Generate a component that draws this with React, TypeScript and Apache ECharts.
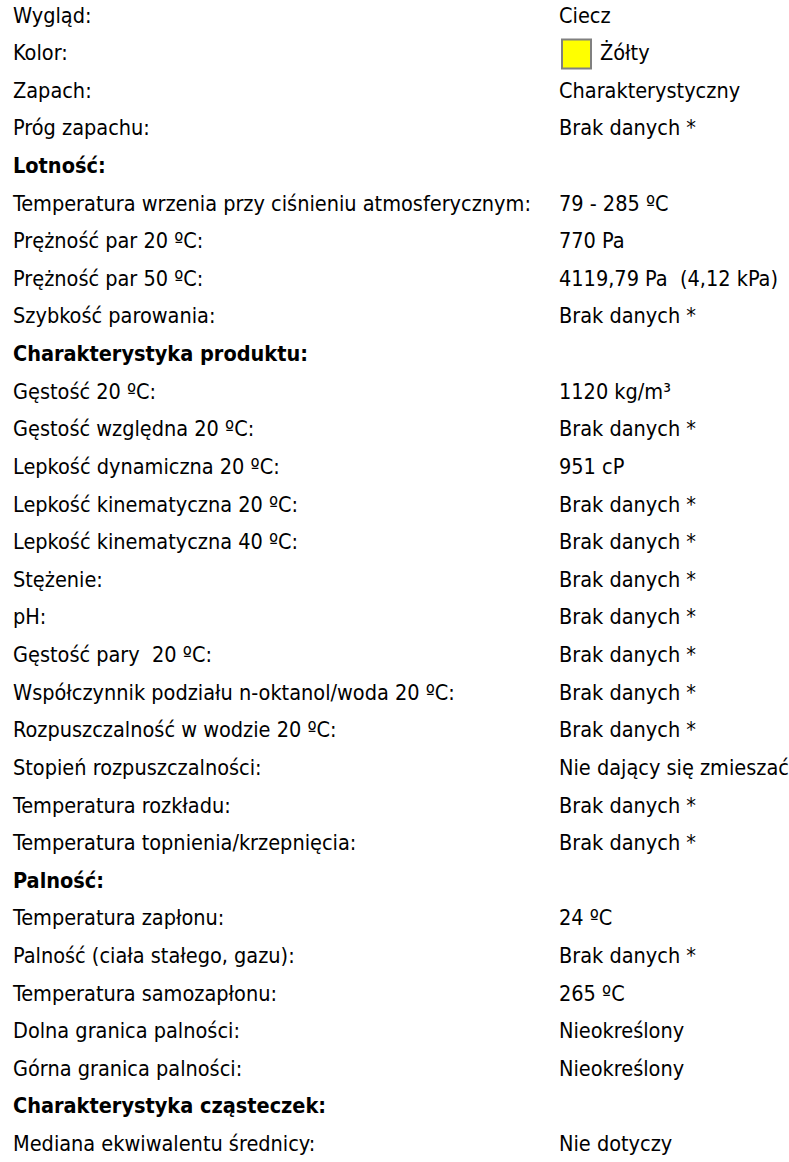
import React, { useEffect, useRef } from "react";
import * as echarts from "echarts";

const labels: string[] = [
  "Wygląd:",
  "Kolor:",
  "Zapach:",
  "Próg zapachu:",
  "Lotność:",
  "Temperatura wrzenia przy ciśnieniu atmosferycznym:",
  "Prężność par 20 ºC:",
  "Prężność par 50 ºC:",
  "Szybkość parowania:",
  "Charakterystyka produktu:",
  "Gęstość 20 ºC:",
  "Gęstość względna 20 ºC:",
  "Lepkość dynamiczna 20 ºC:",
  "Lepkość kinematyczna 20 ºC:",
  "Lepkość kinematyczna 40 ºC:",
  "Stężenie:",
  "pH:",
  "Gęstość pary  20 ºC:",
  "Współczynnik podziału n-oktanol/woda 20 ºC:",
  "Rozpuszczalność w wodzie 20 ºC:",
  "Stopień rozpuszczalności:",
  "Temperatura rozkładu:",
  "Temperatura topnienia/krzepnięcia:",
  "Palność:",
  "Temperatura zapłonu:",
  "Palność (ciała stałego, gazu):",
  "Temperatura samozapłonu:",
  "Dolna granica palności:",
  "Górna granica palności:",
  "Charakterystyka cząsteczek:",
  "Mediana ekwiwalentu średnicy:",
];

const values: string[] = [
  "Ciecz",
  "Żółty",
  "Charakterystyczny",
  "Brak danych *",
  "",
  "79 - 285 ºC",
  "770 Pa",
  "4119,79 Pa  (4,12 kPa)",
  "Brak danych *",
  "",
  "1120 kg/m³",
  "Brak danych *",
  "951 cP",
  "Brak danych *",
  "Brak danych *",
  "Brak danych *",
  "Brak danych *",
  "Brak danych *",
  "Brak danych *",
  "Brak danych *",
  "Nie dający się zmieszać",
  "Brak danych *",
  "Brak danych *",
  "",
  "24 ºC",
  "Brak danych *",
  "265 ºC",
  "Nieokreślony",
  "Nieokreślony",
  "",
  "Nie dotyczy",
];

const sectionHeaders: string[] = [
  "Lotność:",
  "Charakterystyka produktu:",
  "Palność:",
  "Charakterystyka cząsteczek:",
];

const swatchRow = "Kolor:";
const swatchColor = "#FFFF00";

export default function App() {
  const ref = useRef<HTMLDivElement>(null);
  useEffect(() => {
    document.body.style.margin = "0";
    const chart = echarts.init(ref.current!, null, { renderer: "svg" });
    const font = "'DejaVu Sans Condensed', 'DejaVu Sans', sans-serif";
    const fontSize = 21.5;
    const top = 15;
    const step = 37.62;
    const leftX = 13;
    const rightX = 559;
    const elements: any[] = [];
    labels.forEach((lab, i) => {
      const y = top + i * step;
      const bold = sectionHeaders.includes(lab);
      elements.push({
        type: "text",
        x: leftX,
        y,
        style: {
          text: lab,
          fill: "#000",
          font: `${bold ? "bold " : ""}${fontSize}px ${font}`,
          textVerticalAlign: "middle",
          textAlign: "left",
        },
      });
      const v = values[i];
      if (lab === swatchRow) {
        elements.push({
          type: "rect",
          shape: { x: rightX + 3, y: y - 13, width: 29, height: 29 },
          style: { fill: swatchColor, stroke: "#808080", lineWidth: 2 },
        });
        elements.push({
          type: "text",
          x: rightX + 41,
          y,
          style: {
            text: v,
            fill: "#000",
            font: `${fontSize}px ${font}`,
            textVerticalAlign: "middle",
          },
        });
      } else if (v) {
        elements.push({
          type: "text",
          x: rightX,
          y,
          style: {
            text: v,
            fill: "#000",
            font: `${fontSize}px ${font}`,
            textVerticalAlign: "middle",
          },
        });
      }
    });
    chart.setOption({
      animation: false,
      backgroundColor: "#ffffff",
      graphic: { elements },
    });
    return () => chart.dispose();
  }, []);
  return <div ref={ref} style={{ width: 789, height: 1162 }} />;
}
